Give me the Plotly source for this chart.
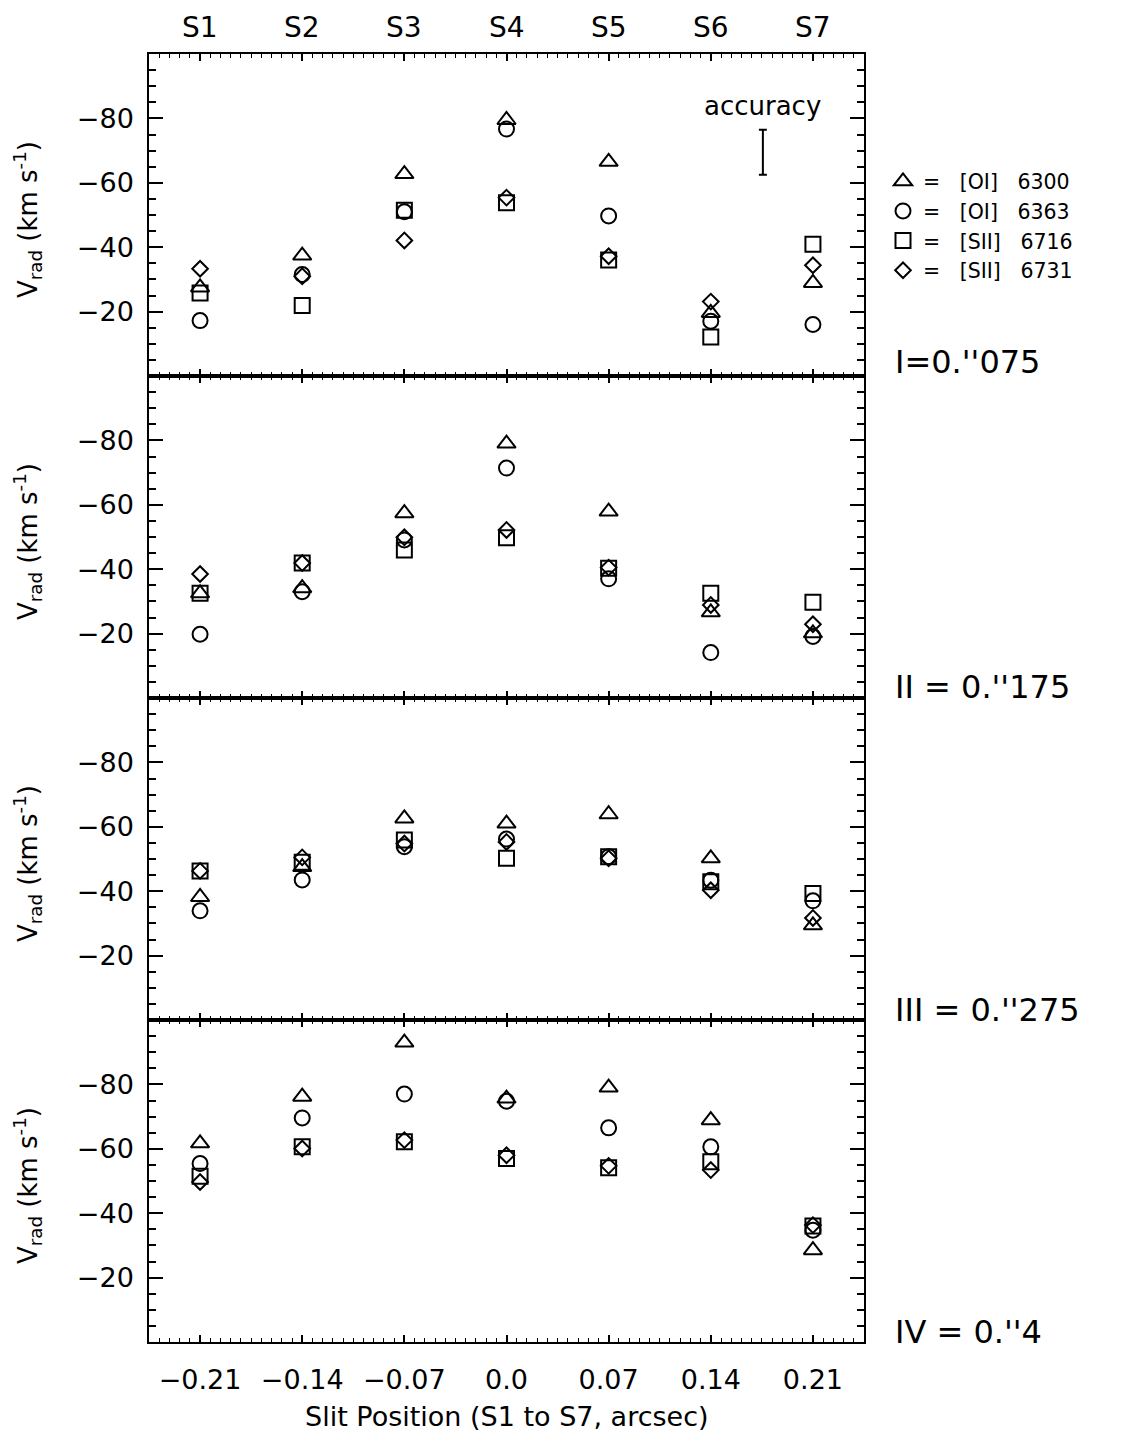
import plotly.graph_objects as go
from plotly.subplots import make_subplots

# ---- data ----
slit_pos = [-0.21, -0.14, -0.07, 0.0, 0.07, 0.14, 0.21]
slit_names = ["S1", "S2", "S3", "S4", "S5", "S6", "S7"]
x_ticktext = ["\u22120.21", "\u22120.14", "\u22120.07", "0.0", "0.07", "0.14", "0.21"]
y_tickvals = [-80, -60, -40, -20]
y_ticktext = ["\u221280", "\u221260", "\u221240", "\u221220"]

panel_labels = ["I=0.''075", "II = 0.''175", "III = 0.''275", "IV = 0.''4"]
line_names = ["=   [OI]   6300", "=   [OI]   6363", "=   [SII]   6716", "=   [SII]   6731"]

# panel I
oi6300_I = [-27.5, -37.4, -62.7, -79.5, -66.5, -19.6, -28.9]
oi6363_I = [-17.2, -31.5, -51.0, -76.7, -49.7, -17.0, -16.0]
sii6716_I = [-25.8, -21.9, -51.5, -53.8, -36.0, -12.1, -40.9]
sii6731_I = [-33.3, -31.0, -42.1, -55.4, -37.2, -23.1, -34.4]
# panel II
oi6300_II = [-32.5, -34.1, -57.4, -79.0, -57.9, -26.6, -20.1]
oi6363_II = [-19.8, -33.0, -49.1, -71.4, -37.0, -14.1, -19.1]
sii6716_II = [-32.5, -41.9, -46.0, -49.8, -40.3, -32.5, -29.7]
sii6731_II = [-38.5, -41.9, -49.9, -52.2, -40.5, -28.9, -22.9]
# panel III
oi6300_III = [-38.2, -47.5, -62.6, -61.0, -63.9, -50.2, -29.4]
oi6363_III = [-33.9, -43.5, -53.8, -56.2, -50.7, -43.4, -37.0]
sii6716_III = [-46.3, -49.0, -55.9, -50.2, -50.7, -42.9, -39.3]
sii6731_III = [-46.3, -50.5, -54.8, -55.3, -50.2, -40.3, -31.7]
# panel IV
oi6300_IV = [-61.7, -76.2, -93.0, -75.6, -79.0, -68.9, -28.5]
oi6363_IV = [-55.4, -69.6, -77.0, -74.8, -66.5, -60.6, -34.7]
sii6716_IV = [-51.5, -60.6, -62.2, -57.0, -54.1, -56.0, -36.0]
sii6731_IV = [-49.7, -60.1, -62.7, -58.0, -54.7, -53.4, -36.3]

accuracy_x = [0.1757]
accuracy_y = [-69.5]
accuracy_err = [7.0]

panels = [
    [oi6300_I, oi6363_I, sii6716_I, sii6731_I],
    [oi6300_II, oi6363_II, sii6716_II, sii6731_II],
    [oi6300_III, oi6363_III, sii6716_III, sii6731_III],
    [oi6300_IV, oi6363_IV, sii6716_IV, sii6731_IV],
]

symbols = ["triangle-up-open", "circle-open", "square-open", "diamond-open"]
sizes = [16, 15, 15, 12]

FONT = "DejaVu Sans"
OFF = 8                       # page body margin of the html
W, H = 1131 - OFF, 1439 - OFF
PL, PR, PT, PB = 149, 864, 53.5, 1342   # plot area, absolute page pixels
L, T = PL - OFF, PT - OFF
R = W - (PR - OFF)
B = H - (PB - OFF)
pw, ph = PR - PL, PB - PT


def px(xabs):
    return (xabs - PL) / pw


def py(yabs):
    return (PB - yabs) / ph


fig = make_subplots(rows=4, cols=1, shared_xaxes=True, vertical_spacing=0)

for i, series in enumerate(panels):
    for j, vals in enumerate(series):
        fig.add_trace(go.Scatter(
            x=slit_pos, y=vals, mode="markers",
            name=line_names[j], legendgroup=line_names[j], showlegend=(i == 0),
            marker=dict(symbol=symbols[j], size=sizes[j], color="black",
                        line=dict(color="black", width=2)),
        ), row=i + 1, col=1)

# accuracy bar
fig.add_trace(go.Scatter(
    x=accuracy_x, y=accuracy_y, mode="markers", showlegend=False,
    marker=dict(size=1, color="rgba(0,0,0,0)"),
    error_y=dict(type="data", array=accuracy_err, visible=True, color="black",
                 thickness=2, width=4),
), row=1, col=1)

for i in range(4):
    fig.update_yaxes(
        range=[0, -100], tickvals=y_tickvals, ticktext=y_ticktext,
        ticks="inside", ticklen=14, tickwidth=1.5, tickcolor="black",
        minor=dict(dtick=5, tick0=0, ticks="inside", ticklen=7, tickwidth=1.5, tickcolor="black"),
        showline=True, linecolor="black", linewidth=1.5, mirror="allticks",
        showgrid=False, zeroline=False, ticklabelstandoff=8,
        tickfont=dict(family=FONT, size=27, color="black"),
        row=i + 1, col=1)
    fig.update_xaxes(
        range=[-0.245, 0.245], tickvals=slit_pos, ticktext=x_ticktext,
        ticks="inside", ticklen=7, tickwidth=1.5, tickcolor="black",
        minor=dict(dtick=0.007, tick0=0, ticks="inside", ticklen=4, tickwidth=1, tickcolor="black"),
        showline=True, linecolor="black", linewidth=1.5, mirror="allticks",
        showgrid=False, zeroline=False, showticklabels=(i == 3), ticklabelstandoff=13,
        tickfont=dict(family=FONT, size=27, color="black"),
        row=i + 1, col=1)

annotations = []
# top slit labels
for xv, nm in zip(slit_pos, slit_names):
    annotations.append(dict(x=xv, xref="x", y=py(27), yref="paper",
                            text=nm, showarrow=False, xanchor="center", yanchor="middle",
                            font=dict(family=FONT, size=28, color="black")))
# y titles and right labels
centers = [PT + ph * (k + 0.5) / 4 + 5 for k in range(4)]
right_y = [362, 687, 1010, 1332]
for k in range(4):
    annotations.append(dict(x=px(28), xref="paper", y=py(centers[k]), yref="paper",
                            text="V<sub>rad</sub> (km s<sup>-1</sup>)", textangle=-90,
                            showarrow=False, xanchor="center", yanchor="middle",
                            font=dict(family=FONT, size=26, color="black")))
    annotations.append(dict(x=px(893), xref="paper", y=py(right_y[k]), yref="paper",
                            text=panel_labels[k], showarrow=False, xanchor="left", yanchor="middle",
                            font=dict(family=FONT, size=32, color="black")))
# accuracy label
annotations.append(dict(x=accuracy_x[0], xref="x", y=-84, yref="y", text="accuracy",
                        showarrow=False, xanchor="center", yanchor="middle",
                        font=dict(family=FONT, size=26, color="black")))
# x title
annotations.append(dict(x=0.5, xref="paper", y=py(1417), yref="paper",
                        text="Slit Position (S1 to S7, arcsec)", showarrow=False,
                        xanchor="center", yanchor="middle",
                        font=dict(family=FONT, size=27, color="black")))

fig.update_layout(
    width=W, height=H, margin=dict(l=L, r=R, t=T, b=B),
    paper_bgcolor="white", plot_bgcolor="white",
    annotations=annotations,
    legend=dict(x=px(883), xanchor="left", y=py(161), yanchor="top",
                font=dict(family=FONT, size=20.5, color="black"), tracegroupgap=0,
                bgcolor="rgba(0,0,0,0)", itemsizing="trace"),
    font=dict(family=FONT, color="black"),
)

fig.write_html("out.html")
